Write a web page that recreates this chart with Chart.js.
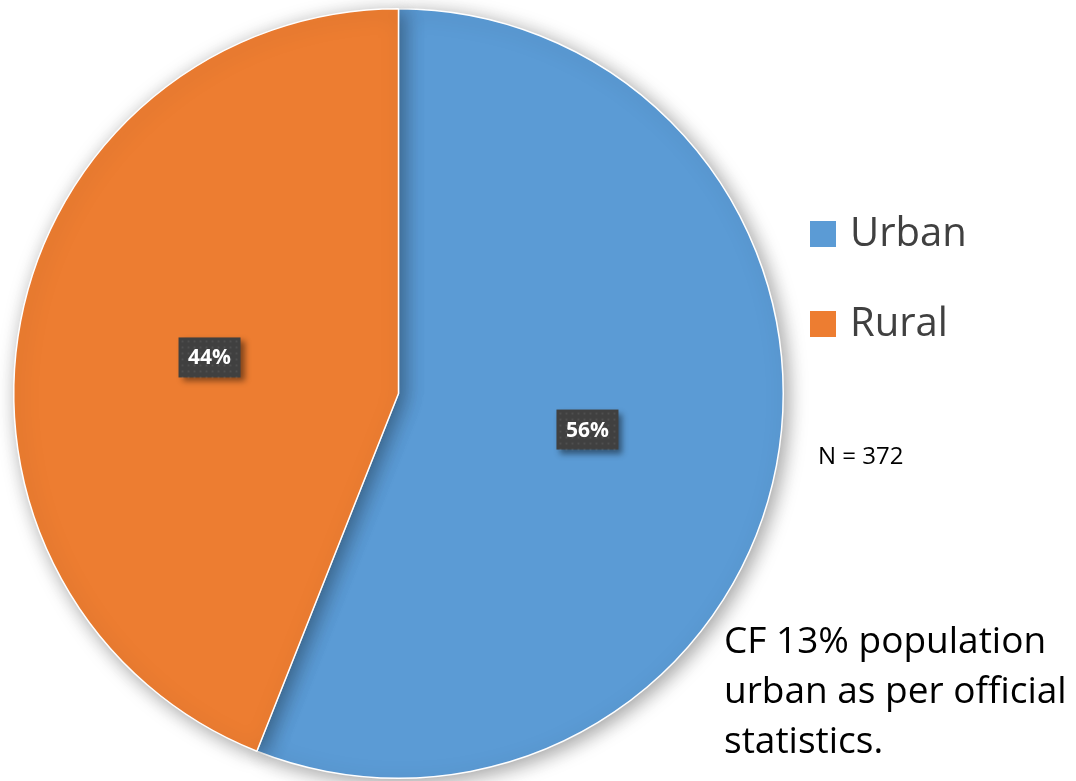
<!DOCTYPE html>
<html>
<head>
<meta charset="utf-8">
<script src="https://cdn.jsdelivr.net/npm/chart.js@4"></script>
<style>
  html, body { margin: 0; padding: 0; background: #fff; }
  #wrap { width: 1076px; height: 781px; position: relative; }
</style>
</head>
<body>
<div id="wrap"><canvas id="pieChart" width="1076" height="781"></canvas></div>
<script>
const categories = ['Urban', 'Rural'];
const shares = [56, 44];
const sliceColors = ['#5B9BD5', '#ED7D31'];
const sampleNote = 'N = 372';
const commentLines = ['CF 13% population', 'urban as per official', 'statistics.'];

const FONT = '"Open Sans", Lato, sans-serif';

// soft shadow under the pie
const pieShadow = {
    id: 'pieShadow',
    beforeDatasetsDraw(chart) {
        const c = chart.ctx;
        c.save();
        c.shadowColor = 'rgba(0,0,0,0.38)';
        c.shadowBlur = 20;
        c.shadowOffsetX = 4;
        c.shadowOffsetY = 4;
    },
    afterDatasetsDraw(chart) {
        chart.ctx.restore();
    }
};

// percent labels, legend and notes
const extras = {
    id: 'extras',
    afterDraw(chart) {
        const c = chart.ctx;
        const meta = chart.getDatasetMeta(0);
        meta.data.forEach(function(arc, i) {
            const p = arc.tooltipPosition();
            const w = 62, h = 40;
            c.save();
            c.shadowColor = 'rgba(0,0,0,0.45)';
            c.shadowBlur = 6;
            c.shadowOffsetX = 4;
            c.shadowOffsetY = 4;
            c.fillStyle = '#404040';
            c.fillRect(p.x - w / 2, p.y - h / 2, w, h);
            c.restore();
            // faint dot texture
            c.save();
            c.fillStyle = 'rgba(255,255,255,0.08)';
            for (let yy = p.y - h / 2 + 3; yy < p.y + h / 2; yy += 6) {
                for (let xx = p.x - w / 2 + 3; xx < p.x + w / 2; xx += 6) {
                    c.fillRect(xx, yy, 2, 2);
                }
            }
            c.fillStyle = '#fff';
            c.font = 'bold 21px ' + FONT;
            c.textAlign = 'center';
            c.textBaseline = 'middle';
            c.fillText(shares[i] + '%', p.x, p.y + 1);
            c.restore();
        });

        // legend
        c.save();
        categories.forEach(function(name, i) {
            const y = 234 + i * 90;
            c.fillStyle = sliceColors[i];
            c.fillRect(810, y - 13, 26, 26);
            c.fillStyle = '#404040';
            c.font = '40px ' + FONT;
            c.textBaseline = 'middle';
            c.textAlign = 'left';
            c.fillText(name, 850, y + 1);
        });

        c.fillStyle = '#000';
        c.font = '24px ' + FONT;
        c.textBaseline = 'middle';
        c.fillText(sampleNote, 818, 457);

        c.font = '37px ' + FONT;
        commentLines.forEach(function(line, i) {
            c.fillText(line, 724, 642 + i * 50);
        });
        c.restore();
    }
};

const ctx = document.getElementById('pieChart').getContext('2d');
const pieChart = new Chart(ctx, {
    type: 'pie',
    data: {
        labels: categories,
        datasets: [{
            data: shares,
            backgroundColor: sliceColors,
            borderColor: '#ffffff',
            borderWidth: 1.5
        }]
    },
    options: {
        responsive: false,
        animation: false,
        layout: {
            padding: { left: 12, top: 8, right: 291, bottom: 2 }
        },
        plugins: {
            legend: { display: false },
            tooltip: { enabled: false }
        }
    },
    plugins: [pieShadow, extras]
});
</script>
</body>
</html>
